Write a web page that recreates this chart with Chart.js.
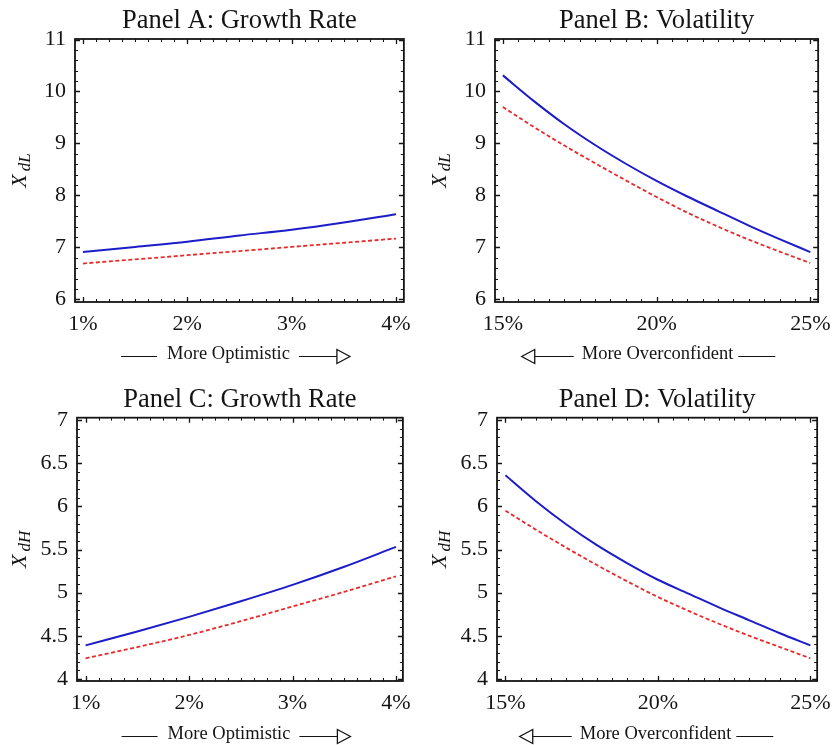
<!DOCTYPE html>
<html>
<head>
<meta charset="utf-8">
<script src="https://cdn.jsdelivr.net/npm/chart.js@4.4.1/dist/chart.umd.min.js"></script>
<style>
  body { margin: 0; background: #fff; }
  #wrap { position: relative; width: 840px; height: 745px; }
  .panel { position: absolute; width: 420px; }
</style>
</head>
<body>
<div id="wrap">
  <div class="panel" style="left:0;top:0"><canvas id="panelA" width="420" height="372"></canvas></div>
  <div class="panel" style="left:420px;top:0"><canvas id="panelB" width="420" height="372"></canvas></div>
  <div class="panel" style="left:0;top:372px"><canvas id="panelC" width="420" height="373"></canvas></div>
  <div class="panel" style="left:420px;top:372px"><canvas id="panelD" width="420" height="373"></canvas></div>
</div>
<script>
// growth rate (%) and volatility (%) grids
const growthX = [1, 1.5, 2, 2.5, 3, 3.5, 4];
const volX = [15, 16, 17, 18, 19, 20, 21, 22, 23, 24, 25];

// Panel A: X_dL vs growth rate
const aBlue = [6.91, 7.01, 7.11, 7.23, 7.34, 7.48, 7.64];
const aRed  = [6.69, 6.77, 6.85, 6.93, 7.01, 7.09, 7.17];
// Panel B: X_dL vs volatility
const bBlue = [10.31, 9.82, 9.37, 8.97, 8.61, 8.28, 7.98, 7.70, 7.42, 7.16, 6.91];
const bRed  = [9.70, 9.32, 8.96, 8.62, 8.29, 7.97, 7.67, 7.40, 7.15, 6.92, 6.70];
// Panel C: X_dH vs growth rate
const cBlue = [4.39, 4.55, 4.72, 4.90, 5.09, 5.30, 5.53];
const cRed  = [4.24, 4.37, 4.51, 4.67, 4.84, 5.01, 5.19];
// Panel D: X_dH vs volatility
const dBlue = [6.36, 6.06, 5.79, 5.55, 5.34, 5.15, 4.99, 4.83, 4.68, 4.53, 4.39];
const dRed  = [5.95, 5.73, 5.52, 5.32, 5.13, 4.95, 4.79, 4.64, 4.50, 4.37, 4.24];

// tick labels
const growthTicks = [1, 2, 3, 4];
const volTicks = [15, 20, 25];
const lowTicks = [6, 7, 8, 9, 10, 11];
const highTicks = [4, 4.5, 5, 5.5, 6, 6.5, 7];

const SERIF = '"Liberation Serif", "DejaVu Serif", serif';
const BLUE = '#1c1cc8';
const RED = '#e82a2a';
const INK = '#141414';

// frame round the plot with inward major and minor ticks
const frameTicks = {
  id: 'frameTicks',
  afterDatasetsDraw(chart, args, opts) {
    const { ctx, chartArea: a, scales: { x, y } } = chart;
    ctx.save();
    ctx.strokeStyle = INK;
    ctx.lineWidth = 1;
    const marks = (scale, step, len, horiz) => {
      const start = Math.ceil(scale.min / step - 1e-9);
      const end = Math.floor(scale.max / step + 1e-9);
      ctx.beginPath();
      for (let k = start; k <= end; k++) {
        const p = Math.round(scale.getPixelForValue(k * step)) + 0.5;
        if (horiz) {
          ctx.moveTo(p, a.bottom); ctx.lineTo(p, a.bottom - len);
          ctx.moveTo(p, a.top); ctx.lineTo(p, a.top + len);
        } else {
          ctx.moveTo(a.left, p); ctx.lineTo(a.left + len, p);
          ctx.moveTo(a.right, p); ctx.lineTo(a.right - len, p);
        }
      }
      ctx.stroke();
    };
    marks(x, opts.xMinor, 3, true);
    marks(y, opts.yMinor, 3, false);
    ctx.lineWidth = 1.3;
    marks(x, opts.xMajor, 5, true);
    marks(y, opts.yMajor, 5, false);
    ctx.lineWidth = 1.8;
    ctx.strokeRect(a.left, a.top, a.width, a.height);
    ctx.restore();
  }
};

// y axis symbol with subscript, and the arrow note under the x axis
const axisText = {
  id: 'axisText',
  afterDraw(chart, args, opts) {
    const { ctx, chartArea: a } = chart;
    ctx.save();
    ctx.fillStyle = INK;
    // rotated X_{dL}
    ctx.translate(18, (a.top + a.bottom) / 2);
    ctx.rotate(-Math.PI / 2);
    ctx.font = 'italic 22px ' + SERIF;
    const w1 = ctx.measureText('X').width;
    ctx.font = 'italic 17px ' + SERIF;
    const w2 = ctx.measureText(opts.sub).width;
    const s = -(w1 + 3 + w2) / 2;
    ctx.textBaseline = 'alphabetic';
    ctx.textAlign = 'left';
    ctx.font = 'italic 22px ' + SERIF;
    ctx.fillText('X', s, 8);
    ctx.font = 'italic 17px ' + SERIF;
    ctx.fillText(opts.sub, s + w1 + 3, 12);
    ctx.restore();

    // note with arrow
    ctx.save();
    ctx.font = '18.5px ' + SERIF;
    ctx.fillStyle = INK;
    ctx.strokeStyle = INK;
    ctx.textAlign = 'center';
    ctx.textBaseline = 'middle';
    const cx = opts.noteX, cy = opts.noteY;
    ctx.fillText(opts.note, cx, cy);
    const tw = ctx.measureText(opts.note).width;
    const tl = cx - tw / 2, tr = cx + tw / 2;
    const ly = cy + 2.5;
    ctx.lineWidth = 1;
    ctx.beginPath();
    if (opts.dir === 'right') {
      ctx.moveTo(tl - 46, ly); ctx.lineTo(tl - 10, ly);
      ctx.moveTo(tr + 9, ly); ctx.lineTo(tr + 47, ly);
      ctx.stroke();
      ctx.beginPath();
      ctx.moveTo(tr + 47, ly - 7); ctx.lineTo(tr + 60, ly); ctx.lineTo(tr + 47, ly + 7); ctx.closePath();
      ctx.lineWidth = 1.3;
      ctx.stroke();
    } else {
      ctx.moveTo(tl - 47, ly); ctx.lineTo(tl - 8, ly);
      ctx.moveTo(tr + 5, ly); ctx.lineTo(tr + 42, ly);
      ctx.stroke();
      ctx.beginPath();
      ctx.moveTo(tl - 47, ly - 7); ctx.lineTo(tl - 60, ly); ctx.lineTo(tl - 47, ly + 7); ctx.closePath();
      ctx.lineWidth = 1.3;
      ctx.stroke();
    }
    ctx.restore();
  }
};

function makePanel(id, p) {
  const pts = (ys) => p.xs.map((x, i) => ({ x: x, y: ys[i] }));
  new Chart(document.getElementById(id), {
    type: 'line',
    data: {
      datasets: [
        { data: pts(p.blue), borderColor: BLUE, borderWidth: 2, pointRadius: 0, cubicInterpolationMode: 'monotone' },
        { data: pts(p.red), borderColor: RED, borderWidth: 1.8, borderDash: [4, 2.5], pointRadius: 0, cubicInterpolationMode: 'monotone' }
      ]
    },
    options: {
      responsive: false,
      animation: false,
      layout: { padding: { left: p.left - 50, right: 420 - p.right, top: p.padTop, bottom: 0 } },
      plugins: {
        legend: { display: false },
        tooltip: { enabled: false },
        title: {
          display: true, text: p.title, fullSize: false, color: INK,
          font: { family: SERIF, size: 26.5, weight: 'normal', lineHeight: 1 },
          padding: { top: 8, bottom: 4.5 }
        },
        frameTicks: { xMinor: p.xMinor, xMajor: p.xMajor, yMinor: p.yMinor, yMajor: p.yMajor },
        axisText: { sub: p.sub, note: p.note, dir: p.dir, noteX: p.noteX, noteY: p.noteY }
      },
      scales: {
        x: {
          type: 'linear', min: p.xMin, max: p.xMax,
          afterBuildTicks: (s) => { s.ticks = p.xTicks.map(v => ({ value: v })); },
          afterFit: (s) => { s.height = p.xSpace; },
          ticks: { callback: (v) => v + '%', color: INK, font: { family: SERIF, size: 22 }, padding: 9, maxRotation: 0, autoSkip: false },
          grid: { display: false, drawTicks: false },
          border: { display: false }
        },
        y: {
          min: p.yMin, max: p.yMax,
          afterBuildTicks: (s) => { s.ticks = p.yTicks.map(v => ({ value: v })); },
          afterFit: (s) => { s.width = 50; },
          ticks: { callback: (v) => String(v), color: INK, font: { family: SERIF, size: 22 }, padding: 9, autoSkip: false },
          grid: { display: false, drawTicks: false },
          border: { display: false }
        }
      }
    },
    plugins: [frameTicks, axisText]
  });
}

const growthNote = 'More Optimistic';
const volNote = 'More Overconfident';

makePanel('panelA', {
  title: 'Panel A: Growth Rate', xs: growthX, blue: aBlue, red: aRed,
  xMin: 0.924, xMax: 4.076, xTicks: growthTicks, xMinor: 0.125, xMajor: 1,
  yMin: 5.95, yMax: 11.01, yTicks: lowTicks, yMinor: 0.2, yMajor: 1,
  left: 75, right: 405, padTop: 0, xSpace: 70,
  sub: 'dL', note: growthNote, dir: 'right', noteX: 228.5, noteY: 354
});
makePanel('panelB', {
  title: 'Panel B: Volatility', xs: volX, blue: bBlue, red: bRed,
  xMin: 14.745, xMax: 25.255, xTicks: volTicks, xMinor: 0.5, xMajor: 5,
  yMin: 5.95, yMax: 11.01, yTicks: lowTicks, yMinor: 0.2, yMajor: 1,
  left: 75, right: 405, padTop: 0, xSpace: 70,
  sub: 'dL', note: volNote, dir: 'left', noteX: 237.5, noteY: 354
});
makePanel('panelC', {
  title: 'Panel C: Growth Rate', xs: growthX, blue: cBlue, red: cRed,
  xMin: 0.917, xMax: 4.067, xTicks: growthTicks, xMinor: 0.125, xMajor: 1,
  yMin: 3.977, yMax: 7.027, yTicks: highTicks, yMinor: 0.1, yMajor: 0.5,
  left: 77, right: 407, padTop: 6.7, xSpace: 64,
  sub: 'dH', note: growthNote, dir: 'right', noteX: 229, noteY: 362
});
makePanel('panelD', {
  title: 'Panel D: Volatility', xs: volX, blue: dBlue, red: dRed,
  xMin: 14.723, xMax: 25.223, xTicks: volTicks, xMinor: 0.5, xMajor: 5,
  yMin: 3.977, yMax: 7.027, yTicks: highTicks, yMinor: 0.1, yMajor: 0.5,
  left: 77, right: 407, padTop: 6.7, xSpace: 64,
  sub: 'dH', note: volNote, dir: 'left', noteX: 235.5, noteY: 362
});
</script>
</body>
</html>
